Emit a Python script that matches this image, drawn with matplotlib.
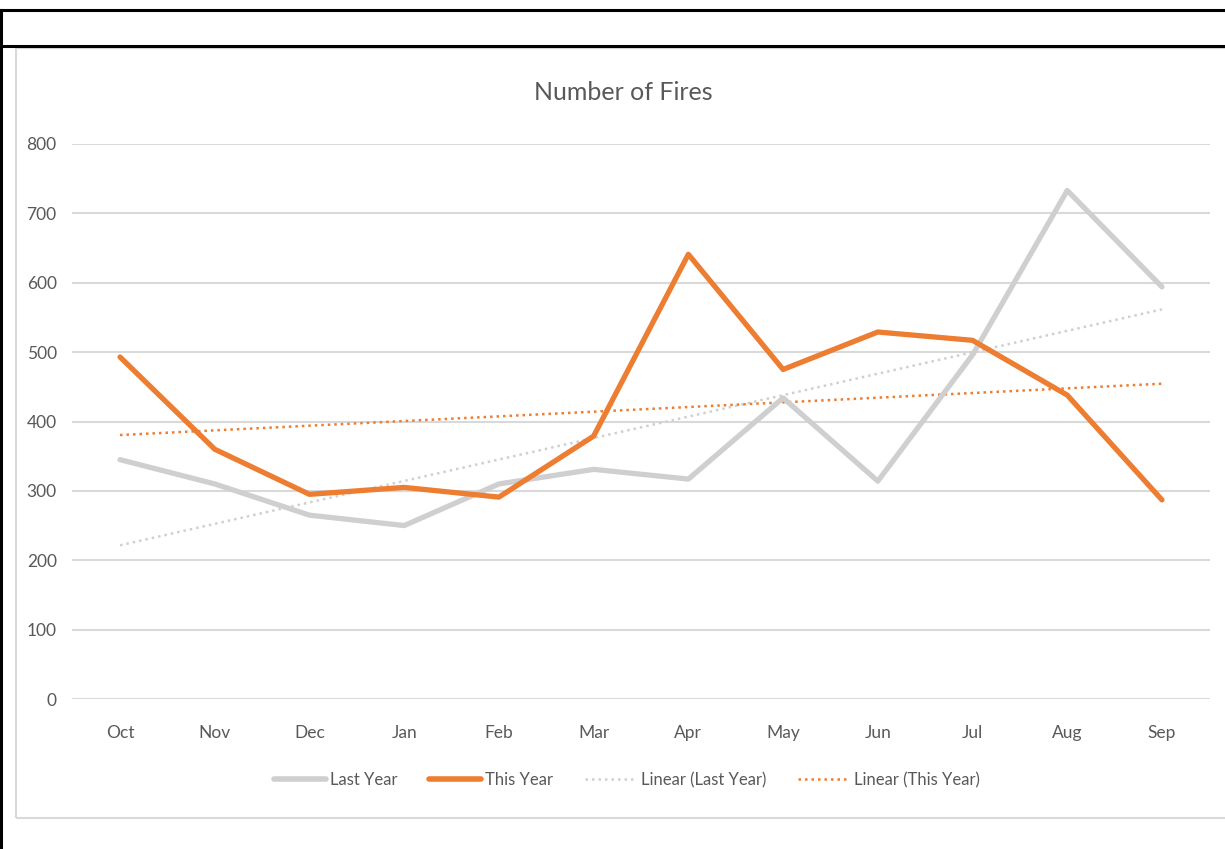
import numpy as np
import matplotlib
matplotlib.use("Agg")
import matplotlib.pyplot as plt
from matplotlib.lines import Line2D
from matplotlib.patches import Rectangle

months = ["Oct", "Nov", "Dec", "Jan", "Feb", "Mar", "Apr", "May", "Jun", "Jul", "Aug", "Sep"]
last_year = [345, 310, 265, 250, 310, 331, 317, 434, 314, 496, 733, 594]
this_year = [493, 360, 295, 305, 291, 379, 641, 475, 529, 517, 438, 287]
y_ticks = [0, 100, 200, 300, 400, 500, 600, 700, 800]

W, H = 1225, 849
plt.rcParams['font.family'] = ['Lato', 'DejaVu Sans']
fig = plt.figure(figsize=(W / 100, H / 100), dpi=100)
fig.patch.set_facecolor("white")

def fx(px):
    return px / W

def fy(py):
    return 1 - py / H

# Outer screenshot frame lines (black)
fig.add_artist(Line2D([0, 1], [fy(10), fy(10)], color="black", lw=2.2, transform=fig.transFigure))
fig.add_artist(Line2D([0, 1], [fy(46), fy(46)], color="black", lw=2.2, transform=fig.transFigure))
fig.add_artist(Line2D([fx(1), fx(1)], [fy(10), 0], color="black", lw=2.2, transform=fig.transFigure))
# Chart area border (light gray)
fig.add_artist(Rectangle((fx(16), fy(818)), fx(1240) - fx(16), fy(48) - fy(818),
                         fill=False, edgecolor="#D9D9D9", lw=1.5, transform=fig.transFigure))

ax = fig.add_axes([fx(72), fy(699), fx(1210) - fx(72), fy(144) - fy(699)])
x = np.arange(len(months))
gray = "#CFCFCF"
orange = "#ED7D31"

ax.plot(x, last_year, color=gray, lw=3.8, solid_capstyle="round", solid_joinstyle="round", zorder=3)
ax.plot(x, this_year, color=orange, lw=3.8, solid_capstyle="round", solid_joinstyle="round", zorder=4)

p_ly = np.polyfit(x, last_year, 1)
p_ty = np.polyfit(x, this_year, 1)
ax.plot(x, np.polyval(p_ly, x), color="#D0D0D0", lw=1.8, ls=(0, (1, 1.6)), zorder=2)
ax.plot(x, np.polyval(p_ty, x), color=orange, lw=1.8, ls=(0, (1, 1.6)), zorder=2)

ax.set_xlim(-0.507, 11.507)
ax.set_ylim(0, 800)
ax.set_yticks(y_ticks)
ax.set_xticks(x)
ax.set_xticklabels(months)
ax.grid(axis="y", color="#D9D9D9", lw=1.5)
ax.set_axisbelow(True)
for s in ax.spines.values():
    s.set_visible(False)
ax.tick_params(axis="both", length=0, colors="#595959", labelsize=12.5)
ax.tick_params(axis="y", pad=11)
ax.tick_params(axis="x", pad=19)

fig.text(fx(623), fy(93), "Number of Fires", ha="center", va="center", fontsize=18, color="#595959")

handles = [
    Line2D([], [], color=gray, lw=4, solid_capstyle="round"),
    Line2D([], [], color=orange, lw=4, solid_capstyle="round"),
    Line2D([], [], color="#D0D0D0", lw=1.8, ls=(0, (1, 1.6))),
    Line2D([], [], color=orange, lw=1.8, ls=(0, (1, 1.6))),
]
labels = ["Last Year", "This Year", "Linear (Last Year)", "Linear (This Year)"]
fig.legend(handles, labels, loc="center", bbox_to_anchor=(fx(627), fy(780)), ncol=4, frameon=False,
           fontsize=12, labelcolor="#595959", handlelength=3.1, handletextpad=0.25, columnspacing=1.9)

fig.savefig("out.png", dpi=100, facecolor="white")
